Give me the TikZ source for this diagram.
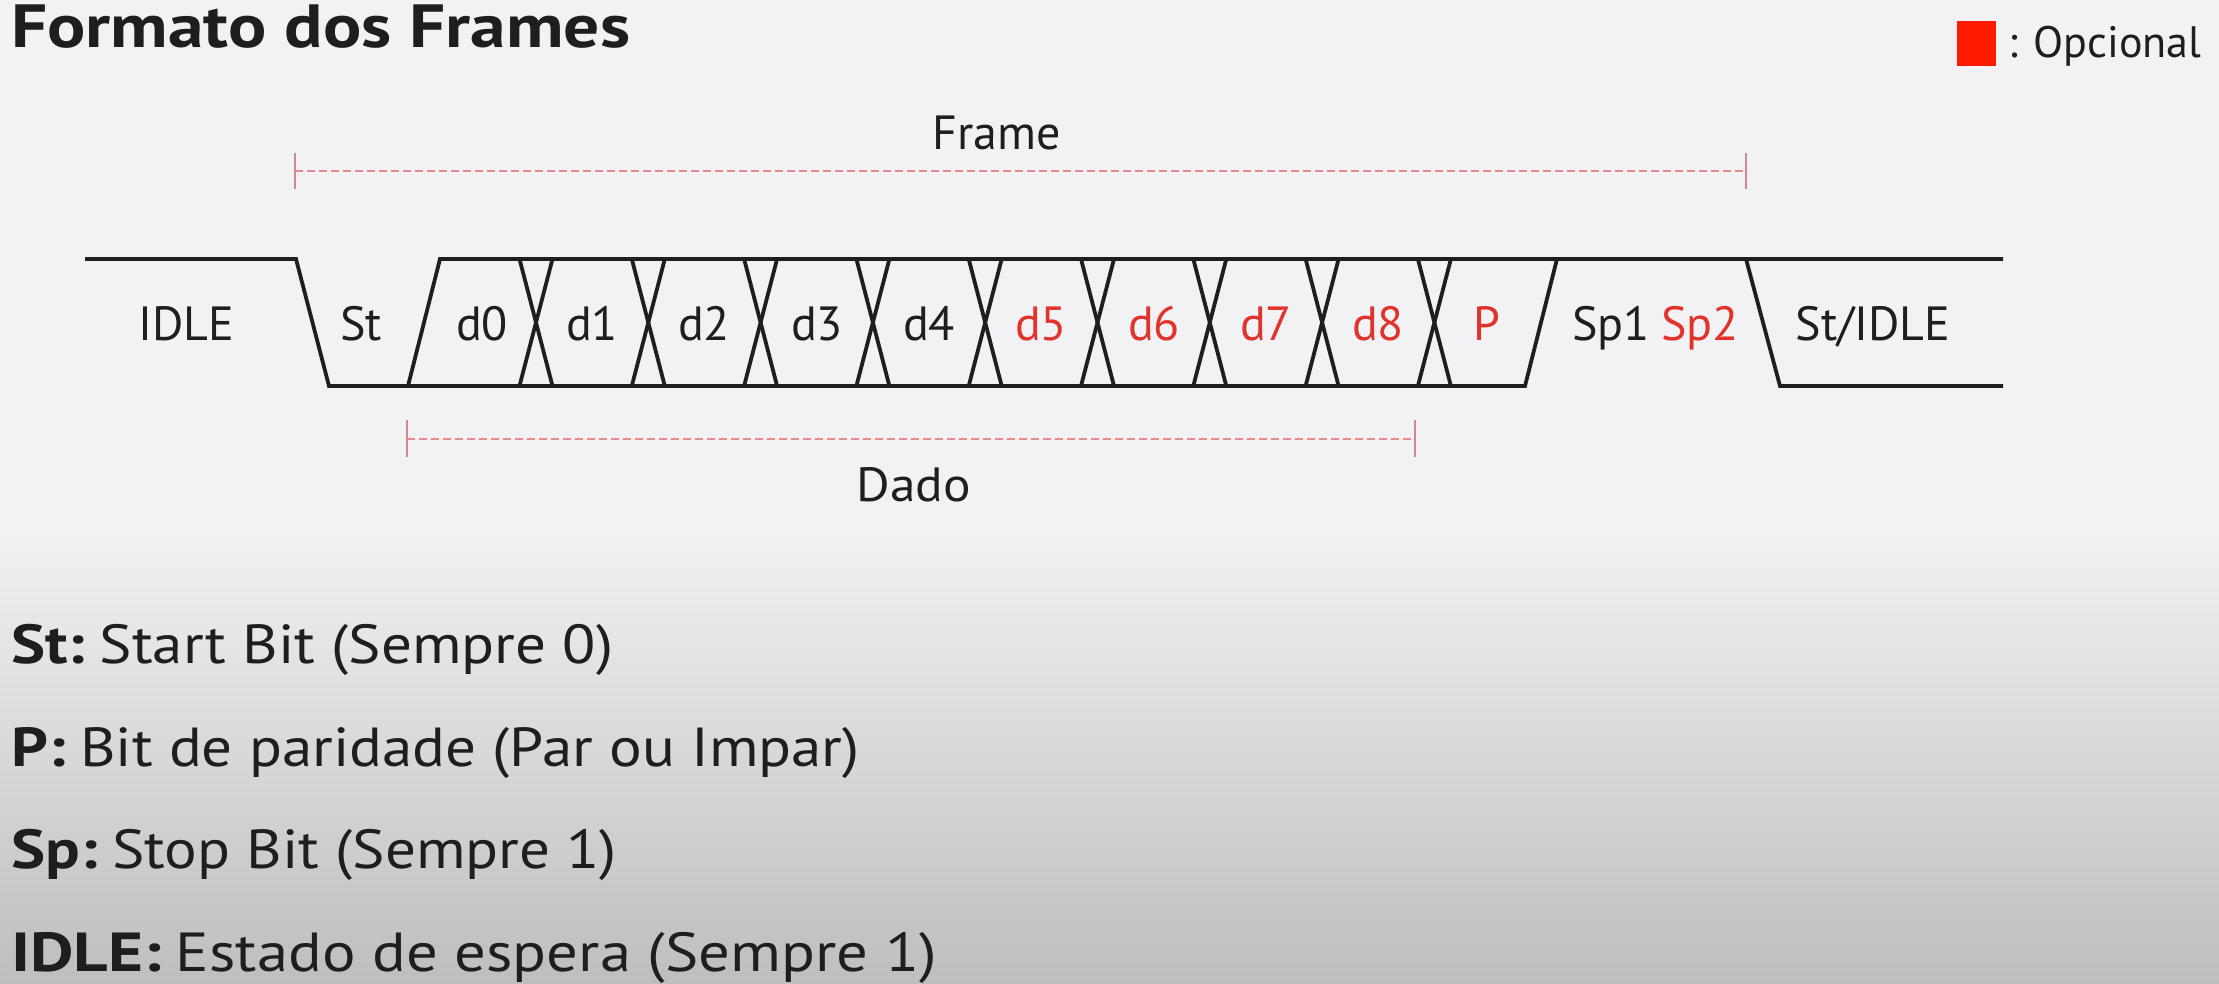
\documentclass[tikz,border=0pt]{standalone}
\usepackage{graphicx}
\usepackage{fontspec}
\setmainfont{PT Sans}
\definecolor{bgtop}{HTML}{F2F2F4}
\definecolor{bgbot}{HTML}{BEBEBE}
\definecolor{ink}{HTML}{1E1E1E}
\definecolor{optred}{HTML}{E2332A}
\definecolor{sqred}{HTML}{FF1A00}
\definecolor{dashred}{HTML}{E88A8A}
\definecolor{tickred}{HTML}{D08890}
\newcommand\bxs[2][1.17]{\scalebox{#1}[1]{\bfseries #2}}
\newcommand\rxs[2][1.11]{\scalebox{#1}[1]{#2}}
\tikzset{
  sig/.style={line width=3.8pt, draw=ink, line join=miter},
  lbl/.style={font=\fontsize{48}{50}\selectfont, text=ink, inner sep=0pt, anchor=base},
  optlbl/.style={lbl, text=optred},
  dimline/.style={draw=dashred, line width=2pt, dash pattern=on 7.5pt off 4.5pt},
  dimtick/.style={draw=tickred, line width=2pt},
  legendtxt/.style={font=\fontsize{55}{60}\selectfont, text=ink, inner sep=0pt, anchor=base west},
}
\begin{document}
\begin{tikzpicture}[x=1pt,y=-1pt]
\useasboundingbox (0,0) rectangle (2219,984);
% background
\fill[bgtop] (0,0) rectangle (2219,530);
\shade[top color=bgtop, bottom color=bgbot] (0,530) rectangle (2219,984);
% title
\node[font=\fontsize{61}{64}\selectfont, text=ink, inner sep=0pt, anchor=base west] (title) at (11,48) {\bxs{Formato dos Frames}};
% legend
\fill[sqred] (1957,21) rectangle (1996,66);
\node[font=\fontsize{44}{46}\selectfont, text=ink, inner sep=0pt, anchor=base west] (opc) at (2008,58) {: Opcional};
% frame dimension
\coordinate (fl) at (295,171);
\coordinate (fr) at (1746,171);
\draw[dimline] (fl) -- (fr);
\draw[dimtick] (295,153) -- (295,189);
\draw[dimtick] (1746,153) -- (1746,189);
\node[lbl] (frame) at (997,150) {Frame};
% dado dimension
\coordinate (dl) at (407,439);
\coordinate (dr) at (1415,439);
\draw[dimline] (dl) -- (dr);
\draw[dimtick] (407,420) -- (407,457);
\draw[dimtick] (1415,420) -- (1415,457);
\node[lbl] (dado) at (914,501) {\scalebox{1.07}[1]{Dado}};
% signal
\def\T{259}
\def\B{386}
\draw[sig] (85,\T) -- (296,\T) -- (329,\B) -- (1525,\B) -- (1557,\T);
\draw[sig] (408,\B) -- (440,\T) -- (2003,\T);
\draw[sig] (1746,\T) -- (1780,\B) -- (2003,\B);
\foreach \k in {0,...,8}{
  \pgfmathsetmacro{\c}{536+112.3*\k}
  \draw[sig] (\c-16.5,\T) -- (\c+16.5,\B);
  \draw[sig] (\c-16.5,\B) -- (\c+16.5,\T);
}
% labels
\node[lbl] (lidle) at (186,341) {IDLE};
\node[lbl] (lst) at (361,341) {St};
\node[lbl] (ld0) at (482,341) {d0};
\node[lbl] (ld1) at (592,341) {d1};
\node[lbl] (ld2) at (704,341) {d2};
\node[lbl] (ld3) at (817,341) {d3};
\node[lbl] (ld4) at (929,341) {d4};
\node[optlbl] (ld5) at (1041,341) {d5};
\node[optlbl] (ld6) at (1154,341) {d6};
\node[optlbl] (ld7) at (1266,341) {d7};
\node[optlbl] (ld8) at (1378,341) {d8};
\node[optlbl] (lp) at (1487,341) {P};
\node[lbl] (lsp1) at (1611,341) {Sp1};
\node[optlbl] (lsp2) at (1700,341) {Sp2};
\node[lbl] (lstidle) at (1873,341) {St/IDLE};
% bottom legend
\node[legendtxt] (e1) at (11,663) {\bxs{St:} \rxs{Start Bit (Sempre 0)}};
\node[legendtxt] (e2) at (11,766) {\bxs{P:} \rxs{Bit de paridade (Par ou Impar)}};
\node[legendtxt] (e3) at (11,868) {\bxs{Sp:} \rxs{Stop Bit (Sempre 1)}};
\node[legendtxt] (e4) at (11,971) {\bxs[1.22]{IDLE:} \rxs[1.14]{Estado de espera (Sempre 1)}};
\end{tikzpicture}
\end{document}
